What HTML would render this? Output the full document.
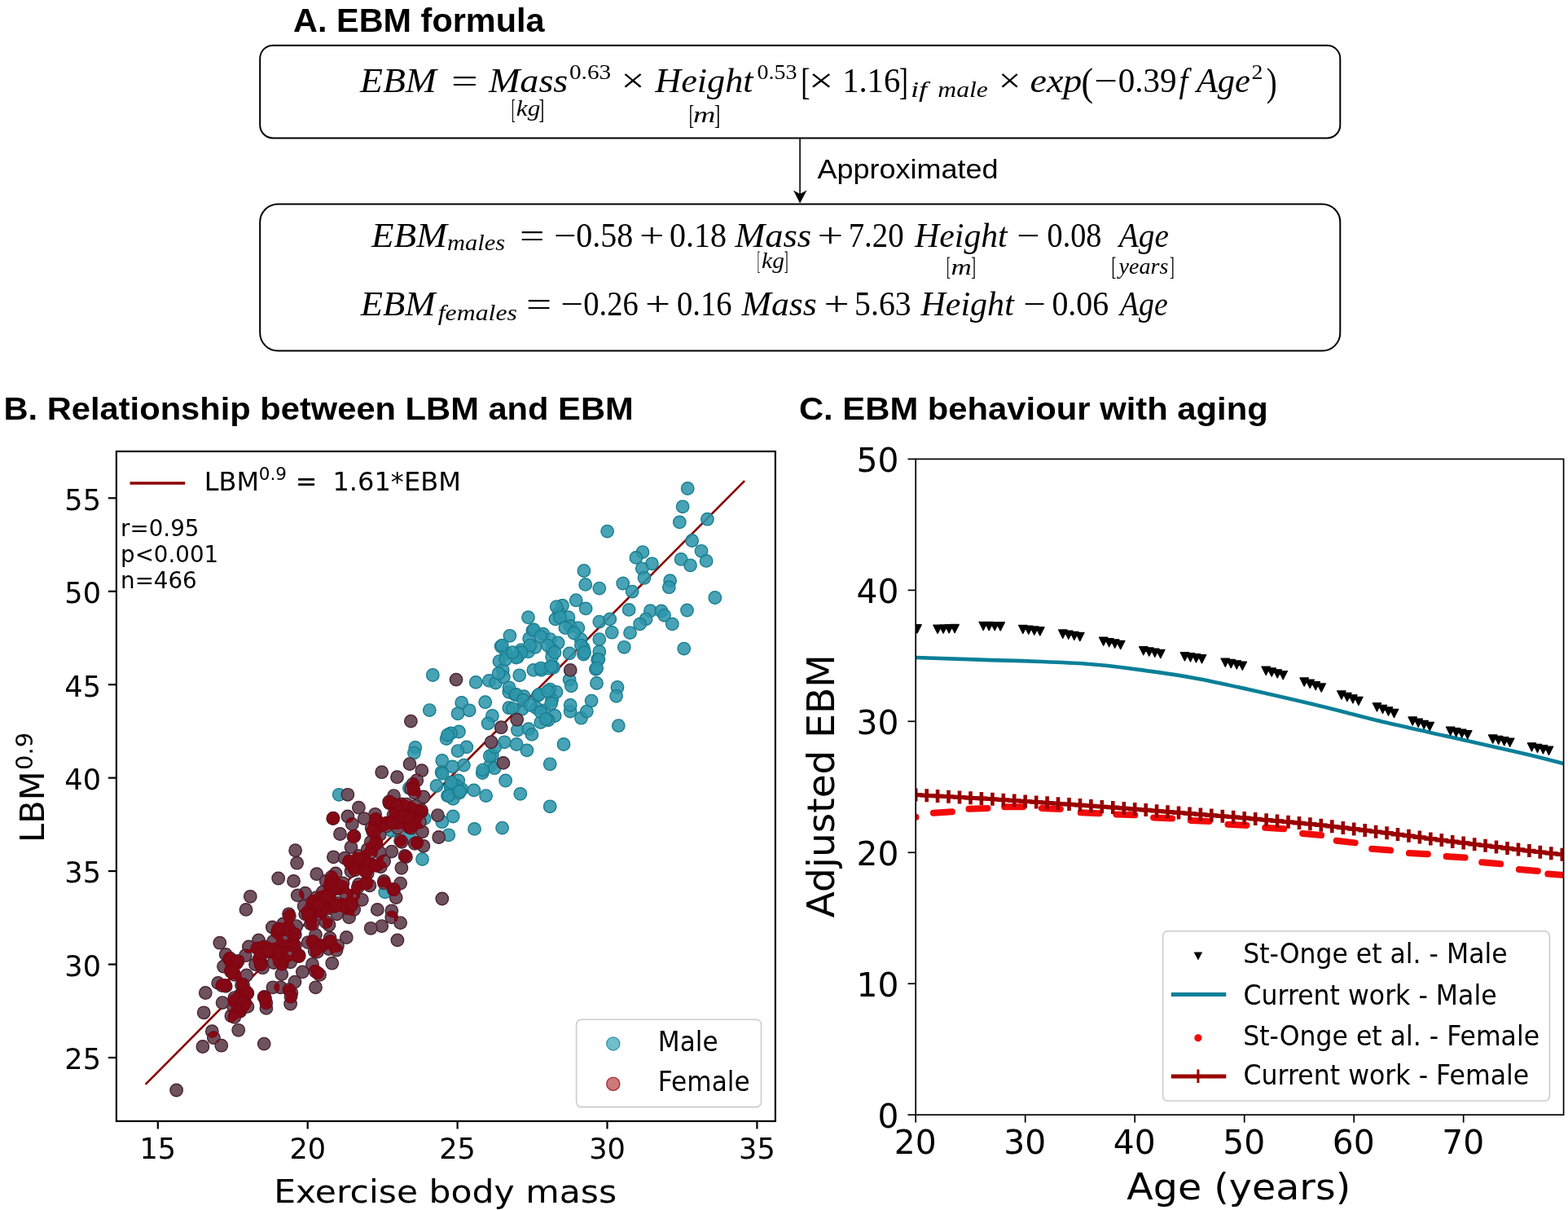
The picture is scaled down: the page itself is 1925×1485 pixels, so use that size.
<!DOCTYPE html>
<html><head><meta charset="utf-8"><title>EBM figure</title>
<style>html,body{margin:0;padding:0;background:#fff;}svg{display:block;}</style></head>
<body><svg width="1925" height="1485" viewBox="0 0 1925 1485">
<rect width="1925" height="1485" fill="#fff"/>
<text x="360.06" y="39.10" style='font-family:"Liberation Sans", Arial, sans-serif;font-size:39.72px;font-weight:bold' textLength="308.53" lengthAdjust="spacingAndGlyphs" fill="#000" >A. EBM formula</text>
<rect x="319.2" y="55.7" width="1326.1" height="113.8" rx="16" ry="16" fill="none" stroke="#000" stroke-width="2"/>
<rect x="319.2" y="250.5" width="1326.1" height="180.1" rx="22" ry="22" fill="none" stroke="#000" stroke-width="2"/>
<line x1="982.10" y1="169.50" x2="982.10" y2="240.00" stroke="#000" stroke-width="1.6" />
<path d="M982.1,249.5 L974,233.5 L982.1,238 L990.5,233.5 Z" fill="#000"/>
<text x="1003.51" y="218.90" style='font-family:"Liberation Sans", Arial, sans-serif;font-size:34.07px' textLength="222.04" lengthAdjust="spacingAndGlyphs" fill="#000" >Approximated</text>
<text x="441.97" y="113.00" style='font-family:"Liberation Serif", serif;font-size:41.20px;font-style:italic' textLength="93.94" lengthAdjust="spacingAndGlyphs" fill="#000" >EBM</text>
<text x="553.90" y="113.00" style='font-family:"Liberation Serif", serif;font-size:41.20px' textLength="32.75" lengthAdjust="spacingAndGlyphs" fill="#000" >=</text>
<text x="599.98" y="113.00" style='font-family:"Liberation Serif", serif;font-size:41.20px;font-style:italic' textLength="97.35" lengthAdjust="spacingAndGlyphs" fill="#000" >Mass</text>
<text x="699.00" y="97.40" style='font-family:"Liberation Serif", serif;font-size:26.20px' textLength="51.17" lengthAdjust="spacingAndGlyphs" fill="#000" >0.63</text>
<text x="762.49" y="113.00" style='font-family:"Liberation Serif", serif;font-size:41.20px' textLength="28.97" lengthAdjust="spacingAndGlyphs" fill="#000" >×</text>
<text x="804.34" y="113.00" style='font-family:"Liberation Serif", serif;font-size:41.20px;font-style:italic' textLength="120.24" lengthAdjust="spacingAndGlyphs" fill="#000" >Height</text>
<text x="929.55" y="97.40" style='font-family:"Liberation Serif", serif;font-size:26.20px' textLength="48.97" lengthAdjust="spacingAndGlyphs" fill="#000" >0.53</text>
<text x="992.65" y="113.00" style='font-family:"Liberation Serif", serif;font-size:41.20px' textLength="30.64" lengthAdjust="spacingAndGlyphs" fill="#000" >×</text>
<text x="1034.15" y="113.00" style='font-family:"Liberation Serif", serif;font-size:41.20px' textLength="71.07" lengthAdjust="spacingAndGlyphs" fill="#000" >1.16</text>
<text x="1118.00" y="118.60" style='font-family:"Liberation Serif", serif;font-size:26.50px;font-style:italic' textLength="20.24" lengthAdjust="spacingAndGlyphs" fill="#000" >if</text>
<text x="1151.29" y="118.60" style='font-family:"Liberation Serif", serif;font-size:26.50px;font-style:italic' textLength="61.59" lengthAdjust="spacingAndGlyphs" fill="#000" >male</text>
<text x="1225.77" y="113.00" style='font-family:"Liberation Serif", serif;font-size:41.20px' textLength="27.71" lengthAdjust="spacingAndGlyphs" fill="#000" >×</text>
<text x="1264.52" y="113.00" style='font-family:"Liberation Serif", serif;font-size:41.20px;font-style:italic' textLength="63.87" lengthAdjust="spacingAndGlyphs" fill="#000" >exp</text>
<text x="1343.15" y="113.00" style='font-family:"Liberation Serif", serif;font-size:41.20px' textLength="28.75" lengthAdjust="spacingAndGlyphs" fill="#000" >−</text>
<text x="1372.76" y="113.00" style='font-family:"Liberation Serif", serif;font-size:41.20px' textLength="71.88" lengthAdjust="spacingAndGlyphs" fill="#000" >0.39</text>
<text x="1447.61" y="113.00" style='font-family:"Liberation Serif", serif;font-size:41.20px;font-style:italic' textLength="10.90" lengthAdjust="spacingAndGlyphs" fill="#000" >f</text>
<text x="1468.94" y="113.00" style='font-family:"Liberation Serif", serif;font-size:41.20px;font-style:italic' textLength="66.01" lengthAdjust="spacingAndGlyphs" fill="#000" >Age</text>
<text x="1536.52" y="97.40" style='font-family:"Liberation Serif", serif;font-size:26.20px' textLength="13.91" lengthAdjust="spacingAndGlyphs" fill="#000" >2</text>
<text x="633.76" y="141.90" style='font-family:"Liberation Serif", serif;font-size:27.40px;font-style:italic' textLength="29.54" lengthAdjust="spacingAndGlyphs" fill="#000" >kg</text>
<text x="851.07" y="149.90" style='font-family:"Liberation Serif", serif;font-size:27.40px;font-style:italic' textLength="27.43" lengthAdjust="spacingAndGlyphs" fill="#000" >m</text>
<text x="983.14" y="116.15" style='font-family:"Liberation Serif", serif;font-size:46.27px' textLength="11.37" lengthAdjust="spacingAndGlyphs" fill="#000" >[</text>
<text x="1103.83" y="116.15" style='font-family:"Liberation Serif", serif;font-size:46.27px' textLength="11.10" lengthAdjust="spacingAndGlyphs" fill="#000" >]</text>
<text x="1327.53" y="117.08" style='font-family:"Liberation Serif", serif;font-size:47.59px' textLength="14.61" lengthAdjust="spacingAndGlyphs" fill="#000" >(</text>
<text x="1554.74" y="117.08" style='font-family:"Liberation Serif", serif;font-size:47.59px' textLength="12.93" lengthAdjust="spacingAndGlyphs" fill="#000" >)</text>
<text x="627.89" y="144.70" style='font-family:"Liberation Serif", serif;font-size:34.10px' textLength="4.49" lengthAdjust="spacingAndGlyphs" fill="#000" >[</text>
<text x="661.48" y="144.70" style='font-family:"Liberation Serif", serif;font-size:34.10px' textLength="6.81" lengthAdjust="spacingAndGlyphs" fill="#000" >]</text>
<text x="845.68" y="152.39" style='font-family:"Liberation Serif", serif;font-size:33.37px' textLength="6.29" lengthAdjust="spacingAndGlyphs" fill="#000" >[</text>
<text x="876.94" y="152.39" style='font-family:"Liberation Serif", serif;font-size:33.37px' textLength="7.25" lengthAdjust="spacingAndGlyphs" fill="#000" >]</text>
<text x="456.06" y="302.50" style='font-family:"Liberation Serif", serif;font-size:41.20px;font-style:italic' textLength="92.78" lengthAdjust="spacingAndGlyphs" fill="#000" >EBM</text>
<text x="548.93" y="306.60" style='font-family:"Liberation Serif", serif;font-size:26.50px;font-style:italic' textLength="71.12" lengthAdjust="spacingAndGlyphs" fill="#000" >males</text>
<text x="638.00" y="302.50" style='font-family:"Liberation Serif", serif;font-size:41.20px' textLength="30.44" lengthAdjust="spacingAndGlyphs" fill="#000" >=</text>
<text x="680.06" y="302.50" style='font-family:"Liberation Serif", serif;font-size:41.20px' textLength="27.53" lengthAdjust="spacingAndGlyphs" fill="#000" >−</text>
<text x="707.30" y="302.50" style='font-family:"Liberation Serif", serif;font-size:41.20px' textLength="69.90" lengthAdjust="spacingAndGlyphs" fill="#000" >0.58</text>
<text x="785.00" y="302.50" style='font-family:"Liberation Serif", serif;font-size:41.20px' textLength="30.44" lengthAdjust="spacingAndGlyphs" fill="#000" >+</text>
<text x="822.00" y="302.50" style='font-family:"Liberation Serif", serif;font-size:41.20px' textLength="69.90" lengthAdjust="spacingAndGlyphs" fill="#000" >0.18</text>
<text x="902.16" y="302.50" style='font-family:"Liberation Serif", serif;font-size:41.20px;font-style:italic' textLength="93.83" lengthAdjust="spacingAndGlyphs" fill="#000" >Mass</text>
<text x="1003.59" y="302.50" style='font-family:"Liberation Serif", serif;font-size:41.20px' textLength="31.66" lengthAdjust="spacingAndGlyphs" fill="#000" >+</text>
<text x="1041.67" y="302.50" style='font-family:"Liberation Serif", serif;font-size:41.20px' textLength="67.98" lengthAdjust="spacingAndGlyphs" fill="#000" >7.20</text>
<text x="1123.12" y="302.50" style='font-family:"Liberation Serif", serif;font-size:41.20px;font-style:italic' textLength="113.62" lengthAdjust="spacingAndGlyphs" fill="#000" >Height</text>
<text x="1248.19" y="302.50" style='font-family:"Liberation Serif", serif;font-size:41.20px' textLength="28.26" lengthAdjust="spacingAndGlyphs" fill="#000" >−</text>
<text x="1285.57" y="302.50" style='font-family:"Liberation Serif", serif;font-size:41.20px' textLength="66.87" lengthAdjust="spacingAndGlyphs" fill="#000" >0.08</text>
<text x="1373.67" y="302.50" style='font-family:"Liberation Serif", serif;font-size:41.20px;font-style:italic' textLength="61.21" lengthAdjust="spacingAndGlyphs" fill="#000" >Age</text>
<text x="935.12" y="329.10" style='font-family:"Liberation Serif", serif;font-size:27.00px;font-style:italic' textLength="27.73" lengthAdjust="spacingAndGlyphs" fill="#000" >kg</text>
<text x="1167.47" y="336.90" style='font-family:"Liberation Serif", serif;font-size:27.00px;font-style:italic' textLength="25.30" lengthAdjust="spacingAndGlyphs" fill="#000" >m</text>
<text x="1373.62" y="336.40" style='font-family:"Liberation Serif", serif;font-size:27.00px;font-style:italic' textLength="60.79" lengthAdjust="spacingAndGlyphs" fill="#000" >years</text>
<text x="929.66" y="331.01" style='font-family:"Liberation Serif", serif;font-size:31.81px' textLength="3.29" lengthAdjust="spacingAndGlyphs" fill="#000" >[</text>
<text x="962.69" y="331.01" style='font-family:"Liberation Serif", serif;font-size:31.81px' textLength="4.88" lengthAdjust="spacingAndGlyphs" fill="#000" >]</text>
<text x="1162.12" y="338.09" style='font-family:"Liberation Serif", serif;font-size:31.93px' textLength="4.79" lengthAdjust="spacingAndGlyphs" fill="#000" >[</text>
<text x="1192.29" y="338.09" style='font-family:"Liberation Serif", serif;font-size:31.93px' textLength="5.77" lengthAdjust="spacingAndGlyphs" fill="#000" >]</text>
<text x="1364.49" y="338.09" style='font-family:"Liberation Serif", serif;font-size:31.93px' textLength="5.84" lengthAdjust="spacingAndGlyphs" fill="#000" >[</text>
<text x="1436.09" y="338.09" style='font-family:"Liberation Serif", serif;font-size:31.93px' textLength="5.77" lengthAdjust="spacingAndGlyphs" fill="#000" >]</text>
<text x="442.76" y="386.70" style='font-family:"Liberation Serif", serif;font-size:41.20px;font-style:italic' textLength="91.81" lengthAdjust="spacingAndGlyphs" fill="#000" >EBM</text>
<text x="537.68" y="393.00" style='font-family:"Liberation Serif", serif;font-size:26.50px;font-style:italic' textLength="97.27" lengthAdjust="spacingAndGlyphs" fill="#000" >females</text>
<text x="646.04" y="386.70" style='font-family:"Liberation Serif", serif;font-size:41.20px' textLength="31.17" lengthAdjust="spacingAndGlyphs" fill="#000" >=</text>
<text x="688.24" y="386.70" style='font-family:"Liberation Serif", serif;font-size:41.20px' textLength="27.77" lengthAdjust="spacingAndGlyphs" fill="#000" >−</text>
<text x="716.26" y="386.70" style='font-family:"Liberation Serif", serif;font-size:41.20px' textLength="67.40" lengthAdjust="spacingAndGlyphs" fill="#000" >0.26</text>
<text x="791.95" y="386.70" style='font-family:"Liberation Serif", serif;font-size:41.20px' textLength="31.05" lengthAdjust="spacingAndGlyphs" fill="#000" >+</text>
<text x="831.06" y="386.70" style='font-family:"Liberation Serif", serif;font-size:41.20px' textLength="67.40" lengthAdjust="spacingAndGlyphs" fill="#000" >0.16</text>
<text x="910.55" y="386.70" style='font-family:"Liberation Serif", serif;font-size:41.20px;font-style:italic' textLength="92.11" lengthAdjust="spacingAndGlyphs" fill="#000" >Mass</text>
<text x="1011.54" y="386.70" style='font-family:"Liberation Serif", serif;font-size:41.20px' textLength="31.17" lengthAdjust="spacingAndGlyphs" fill="#000" >+</text>
<text x="1049.12" y="386.70" style='font-family:"Liberation Serif", serif;font-size:41.20px' textLength="69.47" lengthAdjust="spacingAndGlyphs" fill="#000" >5.63</text>
<text x="1130.42" y="386.70" style='font-family:"Liberation Serif", serif;font-size:41.20px;font-style:italic' textLength="114.41" lengthAdjust="spacingAndGlyphs" fill="#000" >Height</text>
<text x="1256.15" y="386.70" style='font-family:"Liberation Serif", serif;font-size:41.20px' textLength="27.65" lengthAdjust="spacingAndGlyphs" fill="#000" >−</text>
<text x="1291.40" y="386.70" style='font-family:"Liberation Serif", serif;font-size:41.20px' textLength="69.79" lengthAdjust="spacingAndGlyphs" fill="#000" >0.06</text>
<text x="1374.98" y="386.70" style='font-family:"Liberation Serif", serif;font-size:41.20px;font-style:italic' textLength="58.76" lengthAdjust="spacingAndGlyphs" fill="#000" >Age</text>
<text x="4.49" y="514.50" style='font-family:"Liberation Sans", Arial, sans-serif;font-size:38.76px;font-weight:bold' textLength="773.21" lengthAdjust="spacingAndGlyphs" fill="#000" >B. Relationship between LBM and EBM</text>
<defs><clipPath id="clipB"><rect x="142.9" y="554.0" width="809.0" height="822.0"/></clipPath>
<filter id="ovl" x="0" y="0" width="1925" height="1485" filterUnits="userSpaceOnUse"><feComponentTransfer in="SourceAlpha" result="a0"><feFuncA type="discrete" tableValues="0 0 0 0 0 1 1 1"/></feComponentTransfer><feGaussianBlur in="a0" stdDeviation="1.6" result="b1"/><feComponentTransfer in="b1" result="a1"><feFuncA type="linear" slope="8" intercept="-1.6"/></feComponentTransfer><feGaussianBlur in="a1" stdDeviation="1.6" result="b2"/><feComponentTransfer in="b2" result="a"><feFuncA type="linear" slope="8" intercept="-5.2"/></feComponentTransfer><feFlood flood-color="#880010"/><feComposite operator="in" in2="a"/></filter></defs>
<g clip-path="url(#clipB)">
<line x1="178.60" y1="1330.90" x2="914.10" y2="590.20" stroke="#8b0000" stroke-width="2.6" />
<g fill="#2d96ab" fill-opacity="0.88" stroke="#1b7d8f" stroke-width="1.4">
<circle cx="844.2" cy="599.5" r="7.7"/>
<circle cx="838.1" cy="621.8" r="7.7"/>
<circle cx="834.3" cy="640.9" r="7.7"/>
<circle cx="868.4" cy="637.2" r="7.7"/>
<circle cx="849.6" cy="663.5" r="7.7"/>
<circle cx="861.0" cy="676.3" r="7.7"/>
<circle cx="867.1" cy="688.4" r="7.7"/>
<circle cx="836.1" cy="686.4" r="7.7"/>
<circle cx="847.5" cy="693.8" r="7.7"/>
<circle cx="789.0" cy="677.6" r="7.7"/>
<circle cx="780.9" cy="684.4" r="7.7"/>
<circle cx="800.4" cy="691.8" r="7.7"/>
<circle cx="788.3" cy="697.8" r="7.7"/>
<circle cx="791.0" cy="709.3" r="7.7"/>
<circle cx="822.6" cy="712.7" r="7.7"/>
<circle cx="821.3" cy="720.7" r="7.7"/>
<circle cx="764.7" cy="716.0" r="7.7"/>
<circle cx="776.2" cy="726.1" r="7.7"/>
<circle cx="877.8" cy="733.5" r="7.7"/>
<circle cx="772.1" cy="748.4" r="7.7"/>
<circle cx="798.4" cy="749.7" r="7.7"/>
<circle cx="811.9" cy="750.0" r="7.7"/>
<circle cx="815.5" cy="755.1" r="7.7"/>
<circle cx="843.5" cy="749.0" r="7.7"/>
<circle cx="793.0" cy="759.8" r="7.7"/>
<circle cx="785.6" cy="765.9" r="7.7"/>
<circle cx="825.3" cy="765.9" r="7.7"/>
<circle cx="773.5" cy="776.6" r="7.7"/>
<circle cx="745.6" cy="652.1" r="7.7"/>
<circle cx="716.9" cy="700.5" r="7.7"/>
<circle cx="718.7" cy="717.4" r="7.7"/>
<circle cx="735.8" cy="722.1" r="7.7"/>
<circle cx="751.2" cy="776.2" r="7.7"/>
<circle cx="584.2" cy="837.4" r="7.7"/>
<circle cx="600.4" cy="835.4" r="7.7"/>
<circle cx="608.5" cy="838.1" r="7.7"/>
<circle cx="595.7" cy="861.7" r="7.7"/>
<circle cx="566.7" cy="862.4" r="7.7"/>
<circle cx="576.2" cy="871.8" r="7.7"/>
<circle cx="562.0" cy="875.8" r="7.7"/>
<circle cx="640.8" cy="870.4" r="7.7"/>
<circle cx="667.7" cy="871.8" r="7.7"/>
<circle cx="681.2" cy="878.5" r="7.7"/>
<circle cx="673.1" cy="883.9" r="7.7"/>
<circle cx="663.7" cy="886.6" r="7.7"/>
<circle cx="700.1" cy="873.1" r="7.7"/>
<circle cx="713.5" cy="881.2" r="7.7"/>
<circle cx="720.3" cy="873.1" r="7.7"/>
<circle cx="758.0" cy="843.5" r="7.7"/>
<circle cx="756.6" cy="854.3" r="7.7"/>
<circle cx="759.3" cy="890.6" r="7.7"/>
<circle cx="604.4" cy="878.5" r="7.7"/>
<circle cx="599.1" cy="887.9" r="7.7"/>
<circle cx="635.4" cy="896.0" r="7.7"/>
<circle cx="648.9" cy="894.7" r="7.7"/>
<circle cx="652.9" cy="901.4" r="7.7"/>
<circle cx="563.4" cy="898.0" r="7.7"/>
<circle cx="572.8" cy="916.9" r="7.7"/>
<circle cx="562.0" cy="921.6" r="7.7"/>
<circle cx="619.3" cy="910.8" r="7.7"/>
<circle cx="634.1" cy="913.5" r="7.7"/>
<circle cx="646.9" cy="920.9" r="7.7"/>
<circle cx="692.0" cy="913.5" r="7.7"/>
<circle cx="604.4" cy="927.0" r="7.7"/>
<circle cx="601.8" cy="939.1" r="7.7"/>
<circle cx="592.3" cy="948.6" r="7.7"/>
<circle cx="569.4" cy="939.1" r="7.7"/>
<circle cx="675.2" cy="937.8" r="7.7"/>
<circle cx="620.6" cy="958.0" r="7.7"/>
<circle cx="562.7" cy="958.0" r="7.7"/>
<circle cx="766.3" cy="794.3" r="7.7"/>
<circle cx="839.7" cy="796.1" r="7.7"/>
<circle cx="531.3" cy="828.5" r="7.7"/>
<circle cx="527.3" cy="871.6" r="7.7"/>
<circle cx="548.1" cy="906.6" r="7.7"/>
<circle cx="553.5" cy="899.9" r="7.7"/>
<circle cx="509.8" cy="917.4" r="7.7"/>
<circle cx="508.4" cy="924.1" r="7.7"/>
<circle cx="542.8" cy="933.5" r="7.7"/>
<circle cx="555.6" cy="940.9" r="7.7"/>
<circle cx="542.1" cy="947.7" r="7.7"/>
<circle cx="536.0" cy="964.5" r="7.7"/>
<circle cx="553.5" cy="964.5" r="7.7"/>
<circle cx="567.0" cy="968.6" r="7.7"/>
<circle cx="581.8" cy="969.9" r="7.7"/>
<circle cx="596.6" cy="976.6" r="7.7"/>
<circle cx="549.5" cy="976.6" r="7.7"/>
<circle cx="416.2" cy="975.3" r="7.7"/>
<circle cx="502.4" cy="967.2" r="7.7"/>
<circle cx="560.3" cy="964.2" r="7.7"/>
<circle cx="556.2" cy="980.4" r="7.7"/>
<circle cx="556.2" cy="1002.0" r="7.7"/>
<circle cx="542.8" cy="1008.7" r="7.7"/>
<circle cx="550.8" cy="1024.8" r="7.7"/>
<circle cx="582.5" cy="1017.4" r="7.7"/>
<circle cx="518.5" cy="1054.5" r="7.7"/>
<circle cx="521.2" cy="1004.6" r="7.7"/>
<circle cx="472.7" cy="1094.9" r="7.7"/>
<circle cx="480.8" cy="1019.5" r="7.7"/>
<circle cx="502.4" cy="1026.2" r="7.7"/>
<circle cx="607.1" cy="942.7" r="7.7"/>
<circle cx="638.8" cy="974.3" r="7.7"/>
<circle cx="675.2" cy="989.8" r="7.7"/>
<circle cx="616.6" cy="1016.1" r="7.7"/>
<circle cx="707.2" cy="736.7" r="7.7"/>
<circle cx="719.1" cy="746.9" r="7.7"/>
<circle cx="690.5" cy="743.2" r="7.7"/>
<circle cx="686.2" cy="752.3" r="7.7"/>
<circle cx="681.9" cy="759.9" r="7.7"/>
<circle cx="698.0" cy="757.7" r="7.7"/>
<circle cx="700.2" cy="768.5" r="7.7"/>
<circle cx="709.9" cy="770.6" r="7.7"/>
<circle cx="648.5" cy="757.7" r="7.7"/>
<circle cx="625.9" cy="780.3" r="7.7"/>
<circle cx="615.1" cy="793.3" r="7.7"/>
<circle cx="621.5" cy="801.9" r="7.7"/>
<circle cx="612.9" cy="811.6" r="7.7"/>
<circle cx="617.2" cy="822.4" r="7.7"/>
<circle cx="618.3" cy="831.0" r="7.7"/>
<circle cx="653.9" cy="773.9" r="7.7"/>
<circle cx="649.6" cy="783.6" r="7.7"/>
<circle cx="666.8" cy="778.2" r="7.7"/>
<circle cx="675.4" cy="784.6" r="7.7"/>
<circle cx="685.1" cy="789.0" r="7.7"/>
<circle cx="677.6" cy="797.6" r="7.7"/>
<circle cx="677.6" cy="806.2" r="7.7"/>
<circle cx="639.9" cy="797.6" r="7.7"/>
<circle cx="648.5" cy="799.7" r="7.7"/>
<circle cx="635.6" cy="806.2" r="7.7"/>
<circle cx="657.1" cy="794.3" r="7.7"/>
<circle cx="699.1" cy="801.9" r="7.7"/>
<circle cx="713.1" cy="784.6" r="7.7"/>
<circle cx="716.4" cy="795.4" r="7.7"/>
<circle cx="716.4" cy="803.0" r="7.7"/>
<circle cx="735.8" cy="763.1" r="7.7"/>
<circle cx="748.7" cy="759.9" r="7.7"/>
<circle cx="735.8" cy="784.6" r="7.7"/>
<circle cx="735.8" cy="799.7" r="7.7"/>
<circle cx="733.6" cy="809.4" r="7.7"/>
<circle cx="731.4" cy="821.3" r="7.7"/>
<circle cx="732.5" cy="838.5" r="7.7"/>
<circle cx="699.1" cy="834.2" r="7.7"/>
<circle cx="701.3" cy="841.8" r="7.7"/>
<circle cx="637.7" cy="828.8" r="7.7"/>
<circle cx="654.9" cy="822.4" r="7.7"/>
<circle cx="664.6" cy="822.4" r="7.7"/>
<circle cx="673.3" cy="820.2" r="7.7"/>
<circle cx="679.7" cy="819.1" r="7.7"/>
<circle cx="624.8" cy="849.3" r="7.7"/>
<circle cx="632.3" cy="852.5" r="7.7"/>
<circle cx="643.1" cy="854.7" r="7.7"/>
<circle cx="624.8" cy="868.7" r="7.7"/>
<circle cx="660.3" cy="853.6" r="7.7"/>
<circle cx="675.4" cy="846.1" r="7.7"/>
<circle cx="683.0" cy="849.3" r="7.7"/>
<circle cx="677.6" cy="859.0" r="7.7"/>
<circle cx="658.2" cy="868.7" r="7.7"/>
<circle cx="700.2" cy="865.5" r="7.7"/>
<circle cx="726.1" cy="860.1" r="7.7"/>
<circle cx="553.1" cy="965.6" r="7.7"/>
<circle cx="551.0" cy="976.4" r="7.7"/>
<circle cx="563.9" cy="973.1" r="7.7"/>
<circle cx="683.2" cy="744.6" r="7.7"/>
<circle cx="687.5" cy="757.6" r="7.7"/>
<circle cx="693.9" cy="770.5" r="7.7"/>
<circle cx="704.7" cy="777.0" r="7.7"/>
<circle cx="655.2" cy="772.7" r="7.7"/>
<circle cx="663.8" cy="781.3" r="7.7"/>
<circle cx="672.4" cy="792.1" r="7.7"/>
<circle cx="681.0" cy="800.7" r="7.7"/>
<circle cx="650.8" cy="792.1" r="7.7"/>
<circle cx="640.1" cy="800.7" r="7.7"/>
<circle cx="633.6" cy="807.1" r="7.7"/>
<circle cx="663.8" cy="820.1" r="7.7"/>
<circle cx="676.7" cy="817.9" r="7.7"/>
<circle cx="616.4" cy="792.1" r="7.7"/>
<circle cx="620.7" cy="809.3" r="7.7"/>
<circle cx="612.1" cy="826.5" r="7.7"/>
<circle cx="629.3" cy="800.7" r="7.7"/>
<circle cx="625.0" cy="843.8" r="7.7"/>
<circle cx="633.6" cy="852.4" r="7.7"/>
<circle cx="642.2" cy="858.9" r="7.7"/>
<circle cx="650.8" cy="865.3" r="7.7"/>
<circle cx="629.3" cy="869.6" r="7.7"/>
<circle cx="661.6" cy="852.4" r="7.7"/>
<circle cx="672.4" cy="848.1" r="7.7"/>
<circle cx="676.7" cy="863.2" r="7.7"/>
<circle cx="663.8" cy="873.9" r="7.7"/>
<circle cx="670.2" cy="882.6" r="7.7"/>
<circle cx="713.3" cy="792.1" r="7.7"/>
<circle cx="717.6" cy="800.7" r="7.7"/>
<circle cx="734.9" cy="809.3" r="7.7"/>
<circle cx="732.7" cy="820.1" r="7.7"/>
<circle cx="549.6" cy="902.0" r="7.7"/>
<circle cx="543.1" cy="949.4" r="7.7"/>
<circle cx="553.9" cy="960.1" r="7.7"/>
<circle cx="564.6" cy="970.9" r="7.7"/>
<circle cx="601.3" cy="927.8" r="7.7"/>
<circle cx="592.7" cy="945.1" r="7.7"/>
<circle cx="607.7" cy="917.0" r="7.7"/>
</g>
<g fill="#6e5260" stroke="#4a2230" stroke-width="1.4">
<circle cx="560.0" cy="834.1" r="7.7"/>
<circle cx="634.7" cy="883.2" r="7.7"/>
<circle cx="615.2" cy="892.7" r="7.7"/>
<circle cx="603.1" cy="910.8" r="7.7"/>
<circle cx="617.9" cy="936.4" r="7.7"/>
<circle cx="504.4" cy="885.1" r="7.7"/>
<circle cx="468.7" cy="947.7" r="7.7"/>
<circle cx="487.5" cy="953.7" r="7.7"/>
<circle cx="503.0" cy="937.6" r="7.7"/>
<circle cx="517.8" cy="945.7" r="7.7"/>
<circle cx="511.8" cy="957.8" r="7.7"/>
<circle cx="507.7" cy="968.6" r="7.7"/>
<circle cx="483.5" cy="976.6" r="7.7"/>
<circle cx="519.9" cy="978.0" r="7.7"/>
<circle cx="426.9" cy="975.3" r="7.7"/>
<circle cx="440.4" cy="991.2" r="7.7"/>
<circle cx="408.8" cy="1004.6" r="7.7"/>
<circle cx="426.9" cy="1002.0" r="7.7"/>
<circle cx="432.3" cy="1011.4" r="7.7"/>
<circle cx="417.5" cy="1023.5" r="7.7"/>
<circle cx="435.0" cy="1026.2" r="7.7"/>
<circle cx="460.6" cy="999.3" r="7.7"/>
<circle cx="447.1" cy="1004.6" r="7.7"/>
<circle cx="478.1" cy="985.8" r="7.7"/>
<circle cx="486.2" cy="996.6" r="7.7"/>
<circle cx="494.3" cy="989.8" r="7.7"/>
<circle cx="505.1" cy="992.5" r="7.7"/>
<circle cx="517.2" cy="996.6" r="7.7"/>
<circle cx="475.4" cy="1010.0" r="7.7"/>
<circle cx="487.5" cy="1010.0" r="7.7"/>
<circle cx="491.6" cy="1031.6" r="7.7"/>
<circle cx="502.4" cy="1015.4" r="7.7"/>
<circle cx="518.5" cy="1020.8" r="7.7"/>
<circle cx="519.9" cy="1038.3" r="7.7"/>
<circle cx="511.8" cy="1034.3" r="7.7"/>
<circle cx="497.0" cy="1050.4" r="7.7"/>
<circle cx="480.8" cy="1045.1" r="7.7"/>
<circle cx="492.9" cy="1065.3" r="7.7"/>
<circle cx="537.4" cy="1000.6" r="7.7"/>
<circle cx="538.7" cy="1027.5" r="7.7"/>
<circle cx="409.4" cy="1051.8" r="7.7"/>
<circle cx="431.0" cy="1039.7" r="7.7"/>
<circle cx="440.4" cy="1050.4" r="7.7"/>
<circle cx="451.2" cy="1042.4" r="7.7"/>
<circle cx="456.6" cy="1061.2" r="7.7"/>
<circle cx="467.3" cy="1063.9" r="7.7"/>
<circle cx="451.2" cy="1072.0" r="7.7"/>
<circle cx="431.0" cy="1069.3" r="7.7"/>
<circle cx="412.1" cy="1072.0" r="7.7"/>
<circle cx="406.7" cy="1081.4" r="7.7"/>
<circle cx="420.2" cy="1088.1" r="7.7"/>
<circle cx="440.4" cy="1085.5" r="7.7"/>
<circle cx="453.9" cy="1086.8" r="7.7"/>
<circle cx="471.4" cy="1081.4" r="7.7"/>
<circle cx="491.6" cy="1084.1" r="7.7"/>
<circle cx="483.5" cy="1092.2" r="7.7"/>
<circle cx="486.2" cy="1101.6" r="7.7"/>
<circle cx="444.4" cy="1104.3" r="7.7"/>
<circle cx="433.7" cy="1098.9" r="7.7"/>
<circle cx="426.9" cy="1115.1" r="7.7"/>
<circle cx="413.5" cy="1121.8" r="7.7"/>
<circle cx="404.0" cy="1135.3" r="7.7"/>
<circle cx="463.3" cy="1116.4" r="7.7"/>
<circle cx="480.8" cy="1117.8" r="7.7"/>
<circle cx="480.8" cy="1125.9" r="7.7"/>
<circle cx="491.6" cy="1132.6" r="7.7"/>
<circle cx="468.7" cy="1136.6" r="7.7"/>
<circle cx="455.2" cy="1139.3" r="7.7"/>
<circle cx="542.8" cy="1103.0" r="7.7"/>
<circle cx="402.7" cy="1104.3" r="7.7"/>
<circle cx="423.2" cy="1053.1" r="7.7"/>
<circle cx="362.6" cy="1043.7" r="7.7"/>
<circle cx="364.6" cy="1059.2" r="7.7"/>
<circle cx="341.7" cy="1078.0" r="7.7"/>
<circle cx="360.5" cy="1081.4" r="7.7"/>
<circle cx="388.8" cy="1072.7" r="7.7"/>
<circle cx="400.3" cy="1081.4" r="7.7"/>
<circle cx="374.7" cy="1096.2" r="7.7"/>
<circle cx="365.3" cy="1098.9" r="7.7"/>
<circle cx="388.1" cy="1101.6" r="7.7"/>
<circle cx="396.2" cy="1094.9" r="7.7"/>
<circle cx="431.2" cy="1061.2" r="7.7"/>
<circle cx="415.1" cy="1108.4" r="7.7"/>
<circle cx="381.4" cy="1115.1" r="7.7"/>
<circle cx="374.7" cy="1121.8" r="7.7"/>
<circle cx="392.2" cy="1121.8" r="7.7"/>
<circle cx="401.6" cy="1115.1" r="7.7"/>
<circle cx="428.6" cy="1125.9" r="7.7"/>
<circle cx="354.5" cy="1121.8" r="7.7"/>
<circle cx="307.3" cy="1100.3" r="7.7"/>
<circle cx="302.0" cy="1116.4" r="7.7"/>
<circle cx="334.3" cy="1138.0" r="7.7"/>
<circle cx="347.7" cy="1133.9" r="7.7"/>
<circle cx="363.9" cy="1136.6" r="7.7"/>
<circle cx="381.4" cy="1133.9" r="7.7"/>
<circle cx="317.5" cy="1153.9" r="7.7"/>
<circle cx="305.4" cy="1162.0" r="7.7"/>
<circle cx="301.3" cy="1172.7" r="7.7"/>
<circle cx="321.5" cy="1164.6" r="7.7"/>
<circle cx="340.4" cy="1144.4" r="7.7"/>
<circle cx="351.2" cy="1140.4" r="7.7"/>
<circle cx="360.6" cy="1147.1" r="7.7"/>
<circle cx="347.1" cy="1160.6" r="7.7"/>
<circle cx="360.6" cy="1160.6" r="7.7"/>
<circle cx="367.3" cy="1172.7" r="7.7"/>
<circle cx="333.7" cy="1164.6" r="7.7"/>
<circle cx="320.2" cy="1180.8" r="7.7"/>
<circle cx="313.5" cy="1183.5" r="7.7"/>
<circle cx="343.1" cy="1180.8" r="7.7"/>
<circle cx="356.6" cy="1180.8" r="7.7"/>
<circle cx="345.8" cy="1195.6" r="7.7"/>
<circle cx="371.4" cy="1192.9" r="7.7"/>
<circle cx="383.5" cy="1183.5" r="7.7"/>
<circle cx="390.2" cy="1194.3" r="7.7"/>
<circle cx="387.5" cy="1211.8" r="7.7"/>
<circle cx="362.0" cy="1205.1" r="7.7"/>
<circle cx="357.9" cy="1218.5" r="7.7"/>
<circle cx="356.6" cy="1232.0" r="7.7"/>
<circle cx="344.4" cy="1211.8" r="7.7"/>
<circle cx="335.0" cy="1211.8" r="7.7"/>
<circle cx="324.2" cy="1223.9" r="7.7"/>
<circle cx="326.9" cy="1237.4" r="7.7"/>
<circle cx="302.7" cy="1197.0" r="7.7"/>
<circle cx="302.7" cy="1218.5" r="7.7"/>
<circle cx="324.2" cy="1281.1" r="7.7"/>
<circle cx="407.7" cy="1182.2" r="7.7"/>
<circle cx="425.3" cy="1150.5" r="7.7"/>
<circle cx="414.5" cy="1160.6" r="7.7"/>
<circle cx="405.1" cy="1151.2" r="7.7"/>
<circle cx="394.3" cy="1160.6" r="7.7"/>
<circle cx="387.5" cy="1147.1" r="7.7"/>
<circle cx="387.5" cy="1113.5" r="7.7"/>
<circle cx="421.2" cy="1110.8" r="7.7"/>
<circle cx="434.7" cy="1116.2" r="7.7"/>
<circle cx="403.7" cy="1164.6" r="7.7"/>
<circle cx="386.2" cy="1167.3" r="7.7"/>
<circle cx="378.1" cy="1156.6" r="7.7"/>
<circle cx="487.9" cy="1153.9" r="7.7"/>
<circle cx="269.8" cy="1157.2" r="7.7"/>
<circle cx="277.2" cy="1171.4" r="7.7"/>
<circle cx="274.5" cy="1186.2" r="7.7"/>
<circle cx="285.3" cy="1183.5" r="7.7"/>
<circle cx="286.6" cy="1194.3" r="7.7"/>
<circle cx="345.9" cy="1174.1" r="7.7"/>
<circle cx="267.7" cy="1206.4" r="7.7"/>
<circle cx="277.2" cy="1210.4" r="7.7"/>
<circle cx="252.3" cy="1218.5" r="7.7"/>
<circle cx="273.1" cy="1230.6" r="7.7"/>
<circle cx="294.7" cy="1221.2" r="7.7"/>
<circle cx="287.9" cy="1227.9" r="7.7"/>
<circle cx="298.7" cy="1234.7" r="7.7"/>
<circle cx="283.9" cy="1246.8" r="7.7"/>
<circle cx="294.7" cy="1241.4" r="7.7"/>
<circle cx="250.2" cy="1242.8" r="7.7"/>
<circle cx="292.7" cy="1264.3" r="7.7"/>
<circle cx="260.3" cy="1265.7" r="7.7"/>
<circle cx="262.4" cy="1273.7" r="7.7"/>
<circle cx="248.9" cy="1284.5" r="7.7"/>
<circle cx="271.8" cy="1283.2" r="7.7"/>
<circle cx="216.6" cy="1338.0" r="7.7"/>
<circle cx="700.2" cy="822.4" r="7.7"/>
<circle cx="341.9" cy="1140.3" r="7.7"/>
<circle cx="354.8" cy="1140.3" r="7.7"/>
<circle cx="362.4" cy="1146.8" r="7.7"/>
<circle cx="335.4" cy="1155.4" r="7.7"/>
<circle cx="348.4" cy="1155.4" r="7.7"/>
<circle cx="362.4" cy="1160.8" r="7.7"/>
<circle cx="340.8" cy="1171.6" r="7.7"/>
<circle cx="354.8" cy="1171.6" r="7.7"/>
<circle cx="366.7" cy="1173.7" r="7.7"/>
<circle cx="346.2" cy="1183.4" r="7.7"/>
<circle cx="330.0" cy="1168.4" r="7.7"/>
<circle cx="355.4" cy="1124.2" r="7.7"/>
<circle cx="316.0" cy="1164.0" r="7.7"/>
<circle cx="324.6" cy="1161.9" r="7.7"/>
<circle cx="318.2" cy="1177.0" r="7.7"/>
<circle cx="322.5" cy="1187.7" r="7.7"/>
<circle cx="373.1" cy="1112.3" r="7.7"/>
<circle cx="383.9" cy="1106.9" r="7.7"/>
<circle cx="394.7" cy="1101.5" r="7.7"/>
<circle cx="405.5" cy="1096.2" r="7.7"/>
<circle cx="416.2" cy="1090.8" r="7.7"/>
<circle cx="378.5" cy="1123.1" r="7.7"/>
<circle cx="394.7" cy="1117.7" r="7.7"/>
<circle cx="410.8" cy="1112.3" r="7.7"/>
<circle cx="383.9" cy="1133.9" r="7.7"/>
<circle cx="400.1" cy="1131.7" r="7.7"/>
<circle cx="405.5" cy="1085.4" r="7.7"/>
<circle cx="383.9" cy="1155.4" r="7.7"/>
<circle cx="394.7" cy="1160.8" r="7.7"/>
<circle cx="405.5" cy="1155.4" r="7.7"/>
<circle cx="413.0" cy="1166.2" r="7.7"/>
<circle cx="389.3" cy="1168.4" r="7.7"/>
<circle cx="281.5" cy="1177.0" r="7.7"/>
<circle cx="290.2" cy="1182.4" r="7.7"/>
<circle cx="283.7" cy="1191.0" r="7.7"/>
<circle cx="288.0" cy="1196.4" r="7.7"/>
<circle cx="296.6" cy="1209.3" r="7.7"/>
<circle cx="303.1" cy="1217.9" r="7.7"/>
<circle cx="292.3" cy="1225.5" r="7.7"/>
<circle cx="300.9" cy="1230.8" r="7.7"/>
<circle cx="286.9" cy="1236.2" r="7.7"/>
<circle cx="324.6" cy="1223.3" r="7.7"/>
<circle cx="326.8" cy="1230.8" r="7.7"/>
<circle cx="354.8" cy="1214.7" r="7.7"/>
<circle cx="357.0" cy="1223.3" r="7.7"/>
<circle cx="387.1" cy="1192.1" r="7.7"/>
<circle cx="392.5" cy="1196.4" r="7.7"/>
<circle cx="276.2" cy="1209.3" r="7.7"/>
<circle cx="459.7" cy="1020.3" r="7.7"/>
<circle cx="461.9" cy="1033.3" r="7.7"/>
<circle cx="466.2" cy="1046.2" r="7.7"/>
<circle cx="455.4" cy="1046.2" r="7.7"/>
<circle cx="446.8" cy="1057.0" r="7.7"/>
<circle cx="461.9" cy="1062.4" r="7.7"/>
<circle cx="471.6" cy="1057.0" r="7.7"/>
<circle cx="428.5" cy="1057.0" r="7.7"/>
<circle cx="440.3" cy="1054.8" r="7.7"/>
<circle cx="436.0" cy="1067.7" r="7.7"/>
<circle cx="449.0" cy="1069.9" r="7.7"/>
<circle cx="406.9" cy="1076.4" r="7.7"/>
<circle cx="412.3" cy="1089.3" r="7.7"/>
<circle cx="401.5" cy="1100.1" r="7.7"/>
<circle cx="420.9" cy="1083.9" r="7.7"/>
<circle cx="425.3" cy="1097.9" r="7.7"/>
<circle cx="439.3" cy="1089.3" r="7.7"/>
<circle cx="450.0" cy="1083.9" r="7.7"/>
<circle cx="390.8" cy="1110.8" r="7.7"/>
<circle cx="412.3" cy="1110.8" r="7.7"/>
<circle cx="431.7" cy="1110.8" r="7.7"/>
<circle cx="482.4" cy="986.9" r="7.7"/>
<circle cx="493.1" cy="986.9" r="7.7"/>
<circle cx="503.9" cy="992.3" r="7.7"/>
<circle cx="487.7" cy="1003.1" r="7.7"/>
<circle cx="498.5" cy="1003.1" r="7.7"/>
<circle cx="509.3" cy="1008.5" r="7.7"/>
<circle cx="493.1" cy="1033.3" r="7.7"/>
<circle cx="509.3" cy="1035.4" r="7.7"/>
<circle cx="498.5" cy="1051.6" r="7.7"/>
<circle cx="409.1" cy="1004.2" r="7.7"/>
<circle cx="433.9" cy="1026.8" r="7.7"/>
<circle cx="471.6" cy="1083.9" r="7.7"/>
<circle cx="483.4" cy="1091.4" r="7.7"/>
<circle cx="282.4" cy="1176.2" r="7.7"/>
<circle cx="287.7" cy="1183.7" r="7.7"/>
<circle cx="283.4" cy="1192.3" r="7.7"/>
<circle cx="292.1" cy="1179.4" r="7.7"/>
<circle cx="298.5" cy="1208.5" r="7.7"/>
<circle cx="303.9" cy="1219.3" r="7.7"/>
<circle cx="287.7" cy="1224.6" r="7.7"/>
<circle cx="298.5" cy="1230.0" r="7.7"/>
<circle cx="293.1" cy="1240.8" r="7.7"/>
<circle cx="287.7" cy="1248.4" r="7.7"/>
<circle cx="303.9" cy="1235.4" r="7.7"/>
<circle cx="320.1" cy="1170.8" r="7.7"/>
<circle cx="320.1" cy="1183.7" r="7.7"/>
<circle cx="330.8" cy="1166.5" r="7.7"/>
<circle cx="336.2" cy="1181.5" r="7.7"/>
<circle cx="325.5" cy="1224.6" r="7.7"/>
<circle cx="272.7" cy="1209.6" r="7.7"/>
<circle cx="506.8" cy="962.4" r="7.7"/>
<circle cx="509.0" cy="973.1" r="7.7"/>
<circle cx="504.6" cy="967.7" r="7.7"/>
<circle cx="477.7" cy="983.9" r="7.7"/>
<circle cx="488.5" cy="989.3" r="7.7"/>
<circle cx="499.3" cy="987.1" r="7.7"/>
<circle cx="510.0" cy="989.3" r="7.7"/>
<circle cx="517.6" cy="994.7" r="7.7"/>
<circle cx="483.1" cy="1000.1" r="7.7"/>
<circle cx="493.9" cy="1002.2" r="7.7"/>
<circle cx="504.6" cy="1005.5" r="7.7"/>
<circle cx="515.4" cy="1008.7" r="7.7"/>
<circle cx="472.3" cy="1010.8" r="7.7"/>
<circle cx="461.5" cy="1005.5" r="7.7"/>
<circle cx="456.2" cy="1016.2" r="7.7"/>
<circle cx="488.5" cy="1016.2" r="7.7"/>
<circle cx="504.6" cy="1016.2" r="7.7"/>
<circle cx="457.6" cy="1020.3" r="7.7"/>
<circle cx="466.2" cy="1024.6" r="7.7"/>
<circle cx="474.8" cy="1013.9" r="7.7"/>
<circle cx="461.9" cy="1035.4" r="7.7"/>
<circle cx="455.4" cy="1033.3" r="7.7"/>
<circle cx="481.3" cy="1009.6" r="7.7"/>
</g>
<g filter="url(#ovl)" fill="#000" fill-opacity="0.5" opacity="0.9">
<circle cx="560.0" cy="834.1" r="8.2"/>
<circle cx="634.7" cy="883.2" r="8.2"/>
<circle cx="615.2" cy="892.7" r="8.2"/>
<circle cx="603.1" cy="910.8" r="8.2"/>
<circle cx="617.9" cy="936.4" r="8.2"/>
<circle cx="504.4" cy="885.1" r="8.2"/>
<circle cx="468.7" cy="947.7" r="8.2"/>
<circle cx="487.5" cy="953.7" r="8.2"/>
<circle cx="503.0" cy="937.6" r="8.2"/>
<circle cx="517.8" cy="945.7" r="8.2"/>
<circle cx="511.8" cy="957.8" r="8.2"/>
<circle cx="507.7" cy="968.6" r="8.2"/>
<circle cx="483.5" cy="976.6" r="8.2"/>
<circle cx="519.9" cy="978.0" r="8.2"/>
<circle cx="426.9" cy="975.3" r="8.2"/>
<circle cx="440.4" cy="991.2" r="8.2"/>
<circle cx="408.8" cy="1004.6" r="8.2"/>
<circle cx="426.9" cy="1002.0" r="8.2"/>
<circle cx="432.3" cy="1011.4" r="8.2"/>
<circle cx="417.5" cy="1023.5" r="8.2"/>
<circle cx="435.0" cy="1026.2" r="8.2"/>
<circle cx="460.6" cy="999.3" r="8.2"/>
<circle cx="447.1" cy="1004.6" r="8.2"/>
<circle cx="478.1" cy="985.8" r="8.2"/>
<circle cx="486.2" cy="996.6" r="8.2"/>
<circle cx="494.3" cy="989.8" r="8.2"/>
<circle cx="505.1" cy="992.5" r="8.2"/>
<circle cx="517.2" cy="996.6" r="8.2"/>
<circle cx="475.4" cy="1010.0" r="8.2"/>
<circle cx="487.5" cy="1010.0" r="8.2"/>
<circle cx="491.6" cy="1031.6" r="8.2"/>
<circle cx="502.4" cy="1015.4" r="8.2"/>
<circle cx="518.5" cy="1020.8" r="8.2"/>
<circle cx="519.9" cy="1038.3" r="8.2"/>
<circle cx="511.8" cy="1034.3" r="8.2"/>
<circle cx="497.0" cy="1050.4" r="8.2"/>
<circle cx="480.8" cy="1045.1" r="8.2"/>
<circle cx="492.9" cy="1065.3" r="8.2"/>
<circle cx="537.4" cy="1000.6" r="8.2"/>
<circle cx="538.7" cy="1027.5" r="8.2"/>
<circle cx="409.4" cy="1051.8" r="8.2"/>
<circle cx="431.0" cy="1039.7" r="8.2"/>
<circle cx="440.4" cy="1050.4" r="8.2"/>
<circle cx="451.2" cy="1042.4" r="8.2"/>
<circle cx="456.6" cy="1061.2" r="8.2"/>
<circle cx="467.3" cy="1063.9" r="8.2"/>
<circle cx="451.2" cy="1072.0" r="8.2"/>
<circle cx="431.0" cy="1069.3" r="8.2"/>
<circle cx="412.1" cy="1072.0" r="8.2"/>
<circle cx="406.7" cy="1081.4" r="8.2"/>
<circle cx="420.2" cy="1088.1" r="8.2"/>
<circle cx="440.4" cy="1085.5" r="8.2"/>
<circle cx="453.9" cy="1086.8" r="8.2"/>
<circle cx="471.4" cy="1081.4" r="8.2"/>
<circle cx="491.6" cy="1084.1" r="8.2"/>
<circle cx="483.5" cy="1092.2" r="8.2"/>
<circle cx="486.2" cy="1101.6" r="8.2"/>
<circle cx="444.4" cy="1104.3" r="8.2"/>
<circle cx="433.7" cy="1098.9" r="8.2"/>
<circle cx="426.9" cy="1115.1" r="8.2"/>
<circle cx="413.5" cy="1121.8" r="8.2"/>
<circle cx="404.0" cy="1135.3" r="8.2"/>
<circle cx="463.3" cy="1116.4" r="8.2"/>
<circle cx="480.8" cy="1117.8" r="8.2"/>
<circle cx="480.8" cy="1125.9" r="8.2"/>
<circle cx="491.6" cy="1132.6" r="8.2"/>
<circle cx="468.7" cy="1136.6" r="8.2"/>
<circle cx="455.2" cy="1139.3" r="8.2"/>
<circle cx="542.8" cy="1103.0" r="8.2"/>
<circle cx="402.7" cy="1104.3" r="8.2"/>
<circle cx="423.2" cy="1053.1" r="8.2"/>
<circle cx="362.6" cy="1043.7" r="8.2"/>
<circle cx="364.6" cy="1059.2" r="8.2"/>
<circle cx="341.7" cy="1078.0" r="8.2"/>
<circle cx="360.5" cy="1081.4" r="8.2"/>
<circle cx="388.8" cy="1072.7" r="8.2"/>
<circle cx="400.3" cy="1081.4" r="8.2"/>
<circle cx="374.7" cy="1096.2" r="8.2"/>
<circle cx="365.3" cy="1098.9" r="8.2"/>
<circle cx="388.1" cy="1101.6" r="8.2"/>
<circle cx="396.2" cy="1094.9" r="8.2"/>
<circle cx="431.2" cy="1061.2" r="8.2"/>
<circle cx="415.1" cy="1108.4" r="8.2"/>
<circle cx="381.4" cy="1115.1" r="8.2"/>
<circle cx="374.7" cy="1121.8" r="8.2"/>
<circle cx="392.2" cy="1121.8" r="8.2"/>
<circle cx="401.6" cy="1115.1" r="8.2"/>
<circle cx="428.6" cy="1125.9" r="8.2"/>
<circle cx="354.5" cy="1121.8" r="8.2"/>
<circle cx="307.3" cy="1100.3" r="8.2"/>
<circle cx="302.0" cy="1116.4" r="8.2"/>
<circle cx="334.3" cy="1138.0" r="8.2"/>
<circle cx="347.7" cy="1133.9" r="8.2"/>
<circle cx="363.9" cy="1136.6" r="8.2"/>
<circle cx="381.4" cy="1133.9" r="8.2"/>
<circle cx="317.5" cy="1153.9" r="8.2"/>
<circle cx="305.4" cy="1162.0" r="8.2"/>
<circle cx="301.3" cy="1172.7" r="8.2"/>
<circle cx="321.5" cy="1164.6" r="8.2"/>
<circle cx="340.4" cy="1144.4" r="8.2"/>
<circle cx="351.2" cy="1140.4" r="8.2"/>
<circle cx="360.6" cy="1147.1" r="8.2"/>
<circle cx="347.1" cy="1160.6" r="8.2"/>
<circle cx="360.6" cy="1160.6" r="8.2"/>
<circle cx="367.3" cy="1172.7" r="8.2"/>
<circle cx="333.7" cy="1164.6" r="8.2"/>
<circle cx="320.2" cy="1180.8" r="8.2"/>
<circle cx="313.5" cy="1183.5" r="8.2"/>
<circle cx="343.1" cy="1180.8" r="8.2"/>
<circle cx="356.6" cy="1180.8" r="8.2"/>
<circle cx="345.8" cy="1195.6" r="8.2"/>
<circle cx="371.4" cy="1192.9" r="8.2"/>
<circle cx="383.5" cy="1183.5" r="8.2"/>
<circle cx="390.2" cy="1194.3" r="8.2"/>
<circle cx="387.5" cy="1211.8" r="8.2"/>
<circle cx="362.0" cy="1205.1" r="8.2"/>
<circle cx="357.9" cy="1218.5" r="8.2"/>
<circle cx="356.6" cy="1232.0" r="8.2"/>
<circle cx="344.4" cy="1211.8" r="8.2"/>
<circle cx="335.0" cy="1211.8" r="8.2"/>
<circle cx="324.2" cy="1223.9" r="8.2"/>
<circle cx="326.9" cy="1237.4" r="8.2"/>
<circle cx="302.7" cy="1197.0" r="8.2"/>
<circle cx="302.7" cy="1218.5" r="8.2"/>
<circle cx="324.2" cy="1281.1" r="8.2"/>
<circle cx="407.7" cy="1182.2" r="8.2"/>
<circle cx="425.3" cy="1150.5" r="8.2"/>
<circle cx="414.5" cy="1160.6" r="8.2"/>
<circle cx="405.1" cy="1151.2" r="8.2"/>
<circle cx="394.3" cy="1160.6" r="8.2"/>
<circle cx="387.5" cy="1147.1" r="8.2"/>
<circle cx="387.5" cy="1113.5" r="8.2"/>
<circle cx="421.2" cy="1110.8" r="8.2"/>
<circle cx="434.7" cy="1116.2" r="8.2"/>
<circle cx="403.7" cy="1164.6" r="8.2"/>
<circle cx="386.2" cy="1167.3" r="8.2"/>
<circle cx="378.1" cy="1156.6" r="8.2"/>
<circle cx="487.9" cy="1153.9" r="8.2"/>
<circle cx="269.8" cy="1157.2" r="8.2"/>
<circle cx="277.2" cy="1171.4" r="8.2"/>
<circle cx="274.5" cy="1186.2" r="8.2"/>
<circle cx="285.3" cy="1183.5" r="8.2"/>
<circle cx="286.6" cy="1194.3" r="8.2"/>
<circle cx="345.9" cy="1174.1" r="8.2"/>
<circle cx="267.7" cy="1206.4" r="8.2"/>
<circle cx="277.2" cy="1210.4" r="8.2"/>
<circle cx="252.3" cy="1218.5" r="8.2"/>
<circle cx="273.1" cy="1230.6" r="8.2"/>
<circle cx="294.7" cy="1221.2" r="8.2"/>
<circle cx="287.9" cy="1227.9" r="8.2"/>
<circle cx="298.7" cy="1234.7" r="8.2"/>
<circle cx="283.9" cy="1246.8" r="8.2"/>
<circle cx="294.7" cy="1241.4" r="8.2"/>
<circle cx="250.2" cy="1242.8" r="8.2"/>
<circle cx="292.7" cy="1264.3" r="8.2"/>
<circle cx="260.3" cy="1265.7" r="8.2"/>
<circle cx="262.4" cy="1273.7" r="8.2"/>
<circle cx="248.9" cy="1284.5" r="8.2"/>
<circle cx="271.8" cy="1283.2" r="8.2"/>
<circle cx="216.6" cy="1338.0" r="8.2"/>
<circle cx="700.2" cy="822.4" r="8.2"/>
<circle cx="341.9" cy="1140.3" r="8.2"/>
<circle cx="354.8" cy="1140.3" r="8.2"/>
<circle cx="362.4" cy="1146.8" r="8.2"/>
<circle cx="335.4" cy="1155.4" r="8.2"/>
<circle cx="348.4" cy="1155.4" r="8.2"/>
<circle cx="362.4" cy="1160.8" r="8.2"/>
<circle cx="340.8" cy="1171.6" r="8.2"/>
<circle cx="354.8" cy="1171.6" r="8.2"/>
<circle cx="366.7" cy="1173.7" r="8.2"/>
<circle cx="346.2" cy="1183.4" r="8.2"/>
<circle cx="330.0" cy="1168.4" r="8.2"/>
<circle cx="355.4" cy="1124.2" r="8.2"/>
<circle cx="316.0" cy="1164.0" r="8.2"/>
<circle cx="324.6" cy="1161.9" r="8.2"/>
<circle cx="318.2" cy="1177.0" r="8.2"/>
<circle cx="322.5" cy="1187.7" r="8.2"/>
<circle cx="373.1" cy="1112.3" r="8.2"/>
<circle cx="383.9" cy="1106.9" r="8.2"/>
<circle cx="394.7" cy="1101.5" r="8.2"/>
<circle cx="405.5" cy="1096.2" r="8.2"/>
<circle cx="416.2" cy="1090.8" r="8.2"/>
<circle cx="378.5" cy="1123.1" r="8.2"/>
<circle cx="394.7" cy="1117.7" r="8.2"/>
<circle cx="410.8" cy="1112.3" r="8.2"/>
<circle cx="383.9" cy="1133.9" r="8.2"/>
<circle cx="400.1" cy="1131.7" r="8.2"/>
<circle cx="405.5" cy="1085.4" r="8.2"/>
<circle cx="383.9" cy="1155.4" r="8.2"/>
<circle cx="394.7" cy="1160.8" r="8.2"/>
<circle cx="405.5" cy="1155.4" r="8.2"/>
<circle cx="413.0" cy="1166.2" r="8.2"/>
<circle cx="389.3" cy="1168.4" r="8.2"/>
<circle cx="281.5" cy="1177.0" r="8.2"/>
<circle cx="290.2" cy="1182.4" r="8.2"/>
<circle cx="283.7" cy="1191.0" r="8.2"/>
<circle cx="288.0" cy="1196.4" r="8.2"/>
<circle cx="296.6" cy="1209.3" r="8.2"/>
<circle cx="303.1" cy="1217.9" r="8.2"/>
<circle cx="292.3" cy="1225.5" r="8.2"/>
<circle cx="300.9" cy="1230.8" r="8.2"/>
<circle cx="286.9" cy="1236.2" r="8.2"/>
<circle cx="324.6" cy="1223.3" r="8.2"/>
<circle cx="326.8" cy="1230.8" r="8.2"/>
<circle cx="354.8" cy="1214.7" r="8.2"/>
<circle cx="357.0" cy="1223.3" r="8.2"/>
<circle cx="387.1" cy="1192.1" r="8.2"/>
<circle cx="392.5" cy="1196.4" r="8.2"/>
<circle cx="276.2" cy="1209.3" r="8.2"/>
<circle cx="459.7" cy="1020.3" r="8.2"/>
<circle cx="461.9" cy="1033.3" r="8.2"/>
<circle cx="466.2" cy="1046.2" r="8.2"/>
<circle cx="455.4" cy="1046.2" r="8.2"/>
<circle cx="446.8" cy="1057.0" r="8.2"/>
<circle cx="461.9" cy="1062.4" r="8.2"/>
<circle cx="471.6" cy="1057.0" r="8.2"/>
<circle cx="428.5" cy="1057.0" r="8.2"/>
<circle cx="440.3" cy="1054.8" r="8.2"/>
<circle cx="436.0" cy="1067.7" r="8.2"/>
<circle cx="449.0" cy="1069.9" r="8.2"/>
<circle cx="406.9" cy="1076.4" r="8.2"/>
<circle cx="412.3" cy="1089.3" r="8.2"/>
<circle cx="401.5" cy="1100.1" r="8.2"/>
<circle cx="420.9" cy="1083.9" r="8.2"/>
<circle cx="425.3" cy="1097.9" r="8.2"/>
<circle cx="439.3" cy="1089.3" r="8.2"/>
<circle cx="450.0" cy="1083.9" r="8.2"/>
<circle cx="390.8" cy="1110.8" r="8.2"/>
<circle cx="412.3" cy="1110.8" r="8.2"/>
<circle cx="431.7" cy="1110.8" r="8.2"/>
<circle cx="482.4" cy="986.9" r="8.2"/>
<circle cx="493.1" cy="986.9" r="8.2"/>
<circle cx="503.9" cy="992.3" r="8.2"/>
<circle cx="487.7" cy="1003.1" r="8.2"/>
<circle cx="498.5" cy="1003.1" r="8.2"/>
<circle cx="509.3" cy="1008.5" r="8.2"/>
<circle cx="493.1" cy="1033.3" r="8.2"/>
<circle cx="509.3" cy="1035.4" r="8.2"/>
<circle cx="498.5" cy="1051.6" r="8.2"/>
<circle cx="409.1" cy="1004.2" r="8.2"/>
<circle cx="433.9" cy="1026.8" r="8.2"/>
<circle cx="471.6" cy="1083.9" r="8.2"/>
<circle cx="483.4" cy="1091.4" r="8.2"/>
<circle cx="282.4" cy="1176.2" r="8.2"/>
<circle cx="287.7" cy="1183.7" r="8.2"/>
<circle cx="283.4" cy="1192.3" r="8.2"/>
<circle cx="292.1" cy="1179.4" r="8.2"/>
<circle cx="298.5" cy="1208.5" r="8.2"/>
<circle cx="303.9" cy="1219.3" r="8.2"/>
<circle cx="287.7" cy="1224.6" r="8.2"/>
<circle cx="298.5" cy="1230.0" r="8.2"/>
<circle cx="293.1" cy="1240.8" r="8.2"/>
<circle cx="287.7" cy="1248.4" r="8.2"/>
<circle cx="303.9" cy="1235.4" r="8.2"/>
<circle cx="320.1" cy="1170.8" r="8.2"/>
<circle cx="320.1" cy="1183.7" r="8.2"/>
<circle cx="330.8" cy="1166.5" r="8.2"/>
<circle cx="336.2" cy="1181.5" r="8.2"/>
<circle cx="325.5" cy="1224.6" r="8.2"/>
<circle cx="272.7" cy="1209.6" r="8.2"/>
<circle cx="506.8" cy="962.4" r="8.2"/>
<circle cx="509.0" cy="973.1" r="8.2"/>
<circle cx="504.6" cy="967.7" r="8.2"/>
<circle cx="477.7" cy="983.9" r="8.2"/>
<circle cx="488.5" cy="989.3" r="8.2"/>
<circle cx="499.3" cy="987.1" r="8.2"/>
<circle cx="510.0" cy="989.3" r="8.2"/>
<circle cx="517.6" cy="994.7" r="8.2"/>
<circle cx="483.1" cy="1000.1" r="8.2"/>
<circle cx="493.9" cy="1002.2" r="8.2"/>
<circle cx="504.6" cy="1005.5" r="8.2"/>
<circle cx="515.4" cy="1008.7" r="8.2"/>
<circle cx="472.3" cy="1010.8" r="8.2"/>
<circle cx="461.5" cy="1005.5" r="8.2"/>
<circle cx="456.2" cy="1016.2" r="8.2"/>
<circle cx="488.5" cy="1016.2" r="8.2"/>
<circle cx="504.6" cy="1016.2" r="8.2"/>
<circle cx="457.6" cy="1020.3" r="8.2"/>
<circle cx="466.2" cy="1024.6" r="8.2"/>
<circle cx="474.8" cy="1013.9" r="8.2"/>
<circle cx="461.9" cy="1035.4" r="8.2"/>
<circle cx="455.4" cy="1033.3" r="8.2"/>
<circle cx="481.3" cy="1009.6" r="8.2"/>
</g>
</g>
<rect x="142.9" y="554.0" width="809.0" height="822.0" fill="none" stroke="#000" stroke-width="2.2"/>
<line x1="193.80" y1="1376.00" x2="193.80" y2="1385.50" stroke="#000" stroke-width="2.2" />
<text x="171.48" y="1421.70" style='font-family:"DejaVu Sans", sans-serif;font-size:35.70px' textLength="44.65" lengthAdjust="spacingAndGlyphs" fill="#000" >15</text>
<line x1="377.70" y1="1376.00" x2="377.70" y2="1385.50" stroke="#000" stroke-width="2.2" />
<text x="355.38" y="1421.70" style='font-family:"DejaVu Sans", sans-serif;font-size:35.70px' textLength="44.65" lengthAdjust="spacingAndGlyphs" fill="#000" >20</text>
<line x1="561.60" y1="1376.00" x2="561.60" y2="1385.50" stroke="#000" stroke-width="2.2" />
<text x="539.28" y="1421.70" style='font-family:"DejaVu Sans", sans-serif;font-size:35.70px' textLength="44.65" lengthAdjust="spacingAndGlyphs" fill="#000" >25</text>
<line x1="745.50" y1="1376.00" x2="745.50" y2="1385.50" stroke="#000" stroke-width="2.2" />
<text x="723.18" y="1421.70" style='font-family:"DejaVu Sans", sans-serif;font-size:35.70px' textLength="44.65" lengthAdjust="spacingAndGlyphs" fill="#000" >30</text>
<line x1="929.40" y1="1376.00" x2="929.40" y2="1385.50" stroke="#000" stroke-width="2.2" />
<text x="907.08" y="1421.70" style='font-family:"DejaVu Sans", sans-serif;font-size:35.70px' textLength="44.65" lengthAdjust="spacingAndGlyphs" fill="#000" >35</text>
<line x1="132.90" y1="1298.00" x2="142.90" y2="1298.00" stroke="#000" stroke-width="2.2" />
<text x="79.33" y="1312.30" style='font-family:"DejaVu Sans", sans-serif;font-size:35.70px' textLength="44.65" lengthAdjust="spacingAndGlyphs" fill="#000" >25</text>
<line x1="132.90" y1="1183.55" x2="142.90" y2="1183.55" stroke="#000" stroke-width="2.2" />
<text x="79.33" y="1197.85" style='font-family:"DejaVu Sans", sans-serif;font-size:35.70px' textLength="44.65" lengthAdjust="spacingAndGlyphs" fill="#000" >30</text>
<line x1="132.90" y1="1069.10" x2="142.90" y2="1069.10" stroke="#000" stroke-width="2.2" />
<text x="79.33" y="1083.40" style='font-family:"DejaVu Sans", sans-serif;font-size:35.70px' textLength="44.65" lengthAdjust="spacingAndGlyphs" fill="#000" >35</text>
<line x1="132.90" y1="954.65" x2="142.90" y2="954.65" stroke="#000" stroke-width="2.2" />
<text x="79.33" y="968.95" style='font-family:"DejaVu Sans", sans-serif;font-size:35.70px' textLength="44.65" lengthAdjust="spacingAndGlyphs" fill="#000" >40</text>
<line x1="132.90" y1="840.20" x2="142.90" y2="840.20" stroke="#000" stroke-width="2.2" />
<text x="79.33" y="854.50" style='font-family:"DejaVu Sans", sans-serif;font-size:35.70px' textLength="44.65" lengthAdjust="spacingAndGlyphs" fill="#000" >45</text>
<line x1="132.90" y1="725.75" x2="142.90" y2="725.75" stroke="#000" stroke-width="2.2" />
<text x="79.33" y="740.05" style='font-family:"DejaVu Sans", sans-serif;font-size:35.70px' textLength="44.65" lengthAdjust="spacingAndGlyphs" fill="#000" >50</text>
<line x1="132.90" y1="611.30" x2="142.90" y2="611.30" stroke="#000" stroke-width="2.2" />
<text x="79.33" y="625.60" style='font-family:"DejaVu Sans", sans-serif;font-size:35.70px' textLength="44.65" lengthAdjust="spacingAndGlyphs" fill="#000" >55</text>
<text x="336.15" y="1475.70" style='font-family:"DejaVu Sans", sans-serif;font-size:38.55px' textLength="420.94" lengthAdjust="spacingAndGlyphs" fill="#000" >Exercise body mass</text>
<g transform="translate(54.4,1029.9) rotate(-90)">
<text x="-4.05" y="0.00" style='font-family:"DejaVu Sans", sans-serif;font-size:40.20px' textLength="87.44" lengthAdjust="spacingAndGlyphs" fill="#000" >LBM</text>
<text x="85.02" y="-14.60" style='font-family:"DejaVu Sans", sans-serif;font-size:29.00px' textLength="45.91" lengthAdjust="spacingAndGlyphs" fill="#000" >0.9</text>
</g>
<line x1="159.50" y1="593.00" x2="227.20" y2="593.00" stroke="#8b0000" stroke-width="3.4" />
<text x="250.69" y="602.00" style='font-family:"DejaVu Sans", sans-serif;font-size:31.60px' textLength="67.26" lengthAdjust="spacingAndGlyphs" fill="#000" >LBM</text>
<text x="317.80" y="588.60" style='font-family:"DejaVu Sans", sans-serif;font-size:22.00px' textLength="34.21" lengthAdjust="spacingAndGlyphs" fill="#000" >0.9</text>
<text x="362.65" y="602.00" style='font-family:"DejaVu Sans", sans-serif;font-size:31.60px' textLength="26.71" lengthAdjust="spacingAndGlyphs" fill="#000" >=</text>
<text x="408.47" y="602.00" style='font-family:"DejaVu Sans", sans-serif;font-size:31.60px' textLength="157.35" lengthAdjust="spacingAndGlyphs" fill="#000" >1.61*EBM</text>
<text x="148.11" y="658.30" style='font-family:"DejaVu Sans", sans-serif;font-size:28.70px' textLength="96.27" lengthAdjust="spacingAndGlyphs" fill="#000" >r=0.95</text>
<text x="148.11" y="690.20" style='font-family:"DejaVu Sans", sans-serif;font-size:28.70px' textLength="120.00" lengthAdjust="spacingAndGlyphs" fill="#000" >p&lt;0.001</text>
<text x="148.11" y="722.00" style='font-family:"DejaVu Sans", sans-serif;font-size:28.70px' textLength="93.64" lengthAdjust="spacingAndGlyphs" fill="#000" >n=466</text>
<rect x="707.6" y="1251.2" width="226.9" height="107.4" rx="6" ry="6" fill="#fff" fill-opacity="0.8" stroke="#cccccc" stroke-width="1.6"/>
<circle cx="752.8" cy="1280.9" r="8" fill="#6fbfcc" stroke="#3f9aaa" stroke-width="1.5"/>
<circle cx="752.8" cy="1330.2" r="8" fill="#cf7a7a" stroke="#a83a42" stroke-width="1.5"/>
<text x="807.87" y="1289.70" style='font-family:"DejaVu Sans", sans-serif;font-size:33.30px' textLength="73.71" lengthAdjust="spacingAndGlyphs" fill="#000" >Male</text>
<text x="807.86" y="1339.00" style='font-family:"DejaVu Sans", sans-serif;font-size:33.30px' textLength="112.80" lengthAdjust="spacingAndGlyphs" fill="#000" >Female</text>
<text x="980.93" y="515.00" style='font-family:"Liberation Sans", Arial, sans-serif;font-size:37.93px;font-weight:bold' textLength="575.84" lengthAdjust="spacingAndGlyphs" fill="#000" >C. EBM behaviour with aging</text>
<defs><clipPath id="clipC"><rect x="1124.2" y="563.4" width="795.4" height="804.8"/></clipPath></defs>
<g clip-path="url(#clipC)">
<line x1="1101.5" y1="1004.3" x2="1124.5" y2="1002.7" stroke="#f20a0a" stroke-width="8" stroke-linecap="round"/>
<line x1="1145.9" y1="997.7" x2="1168.9" y2="996.3" stroke="#f20a0a" stroke-width="8" stroke-linecap="round"/>
<line x1="1189.5" y1="992.8" x2="1212.5" y2="992.0" stroke="#f20a0a" stroke-width="8" stroke-linecap="round"/>
<line x1="1233.2" y1="990.3" x2="1256.2" y2="990.3" stroke="#f20a0a" stroke-width="8" stroke-linecap="round"/>
<line x1="1278.9" y1="991.9" x2="1301.9" y2="992.9" stroke="#f20a0a" stroke-width="8" stroke-linecap="round"/>
<line x1="1326.7" y1="997.3" x2="1349.7" y2="998.3" stroke="#f20a0a" stroke-width="8" stroke-linecap="round"/>
<line x1="1370.3" y1="999.5" x2="1393.3" y2="1000.3" stroke="#f20a0a" stroke-width="8" stroke-linecap="round"/>
<line x1="1416.1" y1="1003.5" x2="1439.1" y2="1004.5" stroke="#f20a0a" stroke-width="8" stroke-linecap="round"/>
<line x1="1461.8" y1="1006.9" x2="1484.8" y2="1007.9" stroke="#f20a0a" stroke-width="8" stroke-linecap="round"/>
<line x1="1507.5" y1="1011.7" x2="1530.5" y2="1012.9" stroke="#f20a0a" stroke-width="8" stroke-linecap="round"/>
<line x1="1553.2" y1="1015.8" x2="1576.2" y2="1017.2" stroke="#f20a0a" stroke-width="8" stroke-linecap="round"/>
<line x1="1599.1" y1="1022.9" x2="1622.1" y2="1025.1" stroke="#f20a0a" stroke-width="8" stroke-linecap="round"/>
<line x1="1640.7" y1="1031.8" x2="1663.7" y2="1034.4" stroke="#f20a0a" stroke-width="8" stroke-linecap="round"/>
<line x1="1684.1" y1="1041.8" x2="1707.1" y2="1043.6" stroke="#f20a0a" stroke-width="8" stroke-linecap="round"/>
<line x1="1729.9" y1="1047.1" x2="1752.9" y2="1048.3" stroke="#f20a0a" stroke-width="8" stroke-linecap="round"/>
<line x1="1775.6" y1="1051.1" x2="1798.6" y2="1052.5" stroke="#f20a0a" stroke-width="8" stroke-linecap="round"/>
<line x1="1819.2" y1="1058.3" x2="1842.2" y2="1060.3" stroke="#f20a0a" stroke-width="8" stroke-linecap="round"/>
<line x1="1864.9" y1="1067.0" x2="1887.9" y2="1069.0" stroke="#f20a0a" stroke-width="8" stroke-linecap="round"/>
<line x1="1900.3" y1="1072.5" x2="1923.3" y2="1074.3" stroke="#f20a0a" stroke-width="8" stroke-linecap="round"/>
<path d="M1124.20,975.50 C1137.83,976.25 1178.98,978.37 1206.00,980.00 C1233.02,981.63 1258.97,983.43 1286.30,985.30 C1313.63,987.17 1342.30,989.12 1370.00,991.20 C1397.70,993.28 1425.00,995.58 1452.50,997.80 C1480.00,1000.02 1507.28,1002.08 1535.00,1004.50 C1562.72,1006.92 1591.30,1009.38 1618.80,1012.30 C1646.30,1015.22 1672.30,1018.53 1700.00,1022.00 C1727.70,1025.47 1760.00,1029.93 1785.00,1033.10 C1810.00,1036.27 1827.57,1038.35 1850.00,1041.00 C1872.43,1043.65 1908.00,1047.67 1919.60,1049.00" fill="none" stroke="#990000" stroke-width="5"/>
<path d="M1124.2,967.5v16M1116.2,975.5h16M1137.7,968.2v16M1129.7,976.2h16M1151.1,969.0v16M1143.1,977.0h16M1164.5,969.7v16M1156.5,977.7h16M1178.0,970.5v16M1170.0,978.5h16M1191.5,971.2v16M1183.5,979.2h16M1204.9,971.9v16M1196.9,979.9h16M1218.4,972.8v16M1210.4,980.8h16M1231.8,973.7v16M1223.8,981.7h16M1245.2,974.6v16M1237.2,982.6h16M1258.7,975.5v16M1250.7,983.5h16M1272.2,976.4v16M1264.2,984.4h16M1285.6,977.3v16M1277.6,985.3h16M1299.0,978.2v16M1291.0,986.2h16M1312.5,979.1v16M1304.5,987.1h16M1326.0,980.1v16M1318.0,988.1h16M1339.4,981.0v16M1331.4,989.0h16M1352.8,982.0v16M1344.8,990.0h16M1366.3,982.9v16M1358.3,990.9h16M1379.8,984.0v16M1371.8,992.0h16M1393.2,985.1v16M1385.2,993.1h16M1406.7,986.1v16M1398.7,994.1h16M1420.1,987.2v16M1412.1,995.2h16M1433.5,988.3v16M1425.5,996.3h16M1447.0,989.4v16M1439.0,997.4h16M1460.5,990.4v16M1452.5,998.4h16M1473.9,991.5v16M1465.9,999.5h16M1487.3,992.6v16M1479.3,1000.6h16M1500.8,993.7v16M1492.8,1001.7h16M1514.2,994.8v16M1506.2,1002.8h16M1527.7,995.9v16M1519.7,1003.9h16M1541.2,997.1v16M1533.2,1005.1h16M1554.6,998.3v16M1546.6,1006.3h16M1568.0,999.6v16M1560.0,1007.6h16M1581.5,1000.8v16M1573.5,1008.8h16M1595.0,1002.1v16M1587.0,1010.1h16M1608.4,1003.3v16M1600.4,1011.3h16M1621.8,1004.7v16M1613.8,1012.7h16M1635.3,1006.3v16M1627.3,1014.3h16M1648.8,1007.9v16M1640.8,1015.9h16M1662.2,1009.5v16M1654.2,1017.5h16M1675.7,1011.1v16M1667.7,1019.1h16M1689.1,1012.7v16M1681.1,1020.7h16M1702.6,1014.3v16M1694.6,1022.3h16M1716.0,1016.1v16M1708.0,1024.1h16M1729.5,1017.8v16M1721.5,1025.8h16M1742.9,1019.6v16M1734.9,1027.6h16M1756.3,1021.4v16M1748.3,1029.4h16M1769.8,1023.1v16M1761.8,1031.1h16M1783.2,1024.9v16M1775.2,1032.9h16M1796.7,1026.5v16M1788.7,1034.5h16M1810.2,1028.2v16M1802.2,1036.2h16M1823.6,1029.8v16M1815.6,1037.8h16M1837.0,1031.4v16M1829.0,1039.4h16M1850.5,1033.1v16M1842.5,1041.1h16M1864.0,1034.6v16M1856.0,1042.6h16M1877.4,1036.1v16M1869.4,1044.1h16M1890.8,1037.7v16M1882.8,1045.7h16M1904.3,1039.2v16M1896.3,1047.2h16M1917.8,1040.8v16M1909.8,1048.8h16M1931.2,1041.0v16M1923.2,1049.0h16" fill="none" stroke="#990000" stroke-width="4.6"/>
<path d="M1124.20,807.00 C1137.35,807.43 1169.17,808.38 1203.10,809.60 C1237.03,810.82 1293.15,811.97 1327.80,814.30 C1362.45,816.63 1386.75,820.42 1411.00,823.60 C1435.25,826.78 1452.53,829.53 1473.30,833.40 C1494.07,837.27 1511.35,841.37 1535.60,846.80 C1559.85,852.23 1591.08,859.33 1618.80,866.00 C1646.52,872.67 1674.20,880.22 1701.90,886.80 C1729.60,893.38 1757.30,899.27 1785.00,905.50 C1812.70,911.73 1845.67,918.95 1868.10,924.20 C1890.53,929.45 1911.02,934.87 1919.60,937.00" fill="none" stroke="#0a7f98" stroke-width="4.6"/>
<path d="M1120.8,766.7L1131.2,766.7L1126.0,776.9ZM1145.9,767.2L1156.3,767.2L1151.1,777.4ZM1152.9,766.9L1163.3,766.9L1158.1,777.1ZM1159.9,766.7L1170.3,766.7L1165.1,776.9ZM1166.9,766.4L1177.3,766.4L1172.1,776.6ZM1202.0,763.3L1212.4,763.3L1207.2,773.5ZM1209.0,763.4L1219.4,763.4L1214.2,773.6ZM1216.0,763.6L1226.4,763.6L1221.2,773.8ZM1223.0,763.7L1233.4,763.7L1228.2,773.9ZM1250.6,767.3L1261.0,767.3L1255.8,777.5ZM1257.6,768.1L1268.0,768.1L1262.8,778.3ZM1264.6,768.9L1275.0,768.9L1269.8,779.1ZM1271.6,769.7L1282.0,769.7L1276.8,779.9ZM1299.6,773.0L1310.0,773.0L1304.8,783.2ZM1306.6,774.1L1317.0,774.1L1311.8,784.3ZM1313.6,775.3L1324.0,775.3L1318.8,785.5ZM1320.6,776.4L1331.0,776.4L1325.8,786.6ZM1349.5,782.1L1359.9,782.1L1354.7,792.3ZM1356.5,783.6L1366.9,783.6L1361.7,793.8ZM1363.5,785.0L1373.9,785.0L1368.7,795.2ZM1370.5,786.5L1380.9,786.5L1375.7,796.7ZM1398.6,793.6L1409.0,793.6L1403.8,803.8ZM1405.6,794.9L1416.0,794.9L1410.8,805.1ZM1412.6,796.1L1423.0,796.1L1417.8,806.3ZM1419.6,797.4L1430.0,797.4L1424.8,807.6ZM1449.3,800.7L1459.7,800.7L1454.5,810.9ZM1456.3,801.7L1466.7,801.7L1461.5,811.9ZM1463.3,802.7L1473.7,802.7L1468.5,812.9ZM1470.3,803.7L1480.7,803.7L1475.5,813.9ZM1499.1,808.1L1509.5,808.1L1504.3,818.3ZM1506.1,809.4L1516.5,809.4L1511.3,819.6ZM1513.1,810.8L1523.5,810.8L1518.3,821.0ZM1520.1,812.1L1530.5,812.1L1525.3,822.3ZM1549.0,818.2L1559.4,818.2L1554.2,828.4ZM1556.0,820.0L1566.4,820.0L1561.2,830.2ZM1563.0,821.8L1573.4,821.8L1568.2,832.0ZM1570.0,823.6L1580.4,823.6L1575.2,833.8ZM1596.0,831.9L1606.4,831.9L1601.2,842.1ZM1603.0,834.2L1613.4,834.2L1608.2,844.4ZM1610.0,836.6L1620.4,836.6L1615.2,846.8ZM1617.0,838.9L1627.4,838.9L1622.2,849.1ZM1641.7,847.9L1652.1,847.9L1646.9,858.1ZM1648.7,850.4L1659.1,850.4L1653.9,860.6ZM1655.7,852.8L1666.1,852.8L1660.9,863.0ZM1662.7,855.3L1673.1,855.3L1667.9,865.5ZM1685.3,862.8L1695.7,862.8L1690.5,873.0ZM1692.3,865.3L1702.7,865.3L1697.5,875.5ZM1699.3,867.9L1709.7,867.9L1704.5,878.1ZM1706.3,870.4L1716.7,870.4L1711.5,880.6ZM1729.0,880.0L1739.4,880.0L1734.2,890.2ZM1736.0,882.1L1746.4,882.1L1741.2,892.3ZM1743.0,884.3L1753.4,884.3L1748.2,894.5ZM1750.0,886.4L1760.4,886.4L1755.2,896.6ZM1775.5,892.2L1785.9,892.2L1780.7,902.4ZM1782.5,893.7L1792.9,893.7L1787.7,903.9ZM1789.5,895.1L1799.9,895.1L1794.7,905.3ZM1796.5,896.6L1806.9,896.6L1801.7,906.8ZM1827.5,901.9L1837.9,901.9L1832.7,912.1ZM1834.5,903.3L1844.9,903.3L1839.7,913.5ZM1841.5,904.7L1851.9,904.7L1846.7,914.9ZM1848.5,906.1L1858.9,906.1L1853.7,916.3ZM1875.3,911.8L1885.7,911.8L1880.5,922.0ZM1882.3,913.3L1892.7,913.3L1887.5,923.5ZM1889.3,914.7L1899.7,914.7L1894.5,924.9ZM1896.3,916.2L1906.7,916.2L1901.5,926.4Z" fill="#000" stroke="#000" stroke-width="1.3" stroke-linejoin="round"/>
</g>
<rect x="1124.2" y="563.4" width="795.4" height="804.8" fill="none" stroke="#000" stroke-width="1.7"/>
<line x1="1124.20" y1="1368.20" x2="1124.20" y2="1377.70" stroke="#000" stroke-width="1.7" />
<text x="1097.75" y="1416.00" style='font-family:"DejaVu Sans", sans-serif;font-size:40.70px' textLength="51.91" lengthAdjust="spacingAndGlyphs" fill="#000" >20</text>
<line x1="1258.70" y1="1368.20" x2="1258.70" y2="1377.70" stroke="#000" stroke-width="1.7" />
<text x="1232.25" y="1416.00" style='font-family:"DejaVu Sans", sans-serif;font-size:40.70px' textLength="51.91" lengthAdjust="spacingAndGlyphs" fill="#000" >30</text>
<line x1="1393.20" y1="1368.20" x2="1393.20" y2="1377.70" stroke="#000" stroke-width="1.7" />
<text x="1366.75" y="1416.00" style='font-family:"DejaVu Sans", sans-serif;font-size:40.70px' textLength="51.91" lengthAdjust="spacingAndGlyphs" fill="#000" >40</text>
<line x1="1527.70" y1="1368.20" x2="1527.70" y2="1377.70" stroke="#000" stroke-width="1.7" />
<text x="1501.25" y="1416.00" style='font-family:"DejaVu Sans", sans-serif;font-size:40.70px' textLength="51.91" lengthAdjust="spacingAndGlyphs" fill="#000" >50</text>
<line x1="1662.20" y1="1368.20" x2="1662.20" y2="1377.70" stroke="#000" stroke-width="1.7" />
<text x="1635.75" y="1416.00" style='font-family:"DejaVu Sans", sans-serif;font-size:40.70px' textLength="51.91" lengthAdjust="spacingAndGlyphs" fill="#000" >60</text>
<line x1="1796.70" y1="1368.20" x2="1796.70" y2="1377.70" stroke="#000" stroke-width="1.7" />
<text x="1770.25" y="1416.00" style='font-family:"DejaVu Sans", sans-serif;font-size:40.70px' textLength="51.91" lengthAdjust="spacingAndGlyphs" fill="#000" >70</text>
<line x1="1114.50" y1="1368.20" x2="1124.20" y2="1368.20" stroke="#000" stroke-width="1.7" />
<text x="1077.50" y="1383.50" style='font-family:"DejaVu Sans", sans-serif;font-size:40.70px' textLength="25.95" lengthAdjust="spacingAndGlyphs" fill="#000" >0</text>
<line x1="1114.50" y1="1207.24" x2="1124.20" y2="1207.24" stroke="#000" stroke-width="1.7" />
<text x="1051.54" y="1222.54" style='font-family:"DejaVu Sans", sans-serif;font-size:40.70px' textLength="51.91" lengthAdjust="spacingAndGlyphs" fill="#000" >10</text>
<line x1="1114.50" y1="1046.28" x2="1124.20" y2="1046.28" stroke="#000" stroke-width="1.7" />
<text x="1051.54" y="1061.58" style='font-family:"DejaVu Sans", sans-serif;font-size:40.70px' textLength="51.91" lengthAdjust="spacingAndGlyphs" fill="#000" >20</text>
<line x1="1114.50" y1="885.32" x2="1124.20" y2="885.32" stroke="#000" stroke-width="1.7" />
<text x="1051.54" y="900.62" style='font-family:"DejaVu Sans", sans-serif;font-size:40.70px' textLength="51.91" lengthAdjust="spacingAndGlyphs" fill="#000" >30</text>
<line x1="1114.50" y1="724.36" x2="1124.20" y2="724.36" stroke="#000" stroke-width="1.7" />
<text x="1051.54" y="739.66" style='font-family:"DejaVu Sans", sans-serif;font-size:40.70px' textLength="51.91" lengthAdjust="spacingAndGlyphs" fill="#000" >40</text>
<line x1="1114.50" y1="563.40" x2="1124.20" y2="563.40" stroke="#000" stroke-width="1.7" />
<text x="1051.54" y="578.70" style='font-family:"DejaVu Sans", sans-serif;font-size:40.70px' textLength="51.91" lengthAdjust="spacingAndGlyphs" fill="#000" >50</text>
<text x="1383.24" y="1472.00" style='font-family:"DejaVu Sans", sans-serif;font-size:44.34px' textLength="274.96" lengthAdjust="spacingAndGlyphs" fill="#000" >Age (years)</text>
<g transform="translate(1023.7,1126) rotate(-90)">
<text x="-0.35" y="0.00" style='font-family:"DejaVu Sans", sans-serif;font-size:45.30px' textLength="323.22" lengthAdjust="spacingAndGlyphs" fill="#000" >Adjusted EBM</text>
</g>
<rect x="1427.6" y="1142.7" width="474.8" height="208.3" rx="6" ry="6" fill="#fff" fill-opacity="0.8" stroke="#cccccc" stroke-width="1.6"/>
<path d="M1465.6,1168.6L1476.2,1168.6L1470.9,1178.4Z" fill="#000"/>
<line x1="1437.80" y1="1220.40" x2="1505.30" y2="1220.40" stroke="#0a7f98" stroke-width="5" />
<circle cx="1470.9" cy="1273.8" r="4.6" fill="#f20a0a"/>
<line x1="1437.80" y1="1320.90" x2="1505.30" y2="1320.90" stroke="#990000" stroke-width="5" />
<line x1="1470.90" y1="1312.50" x2="1470.90" y2="1329.00" stroke="#990000" stroke-width="3" />
<text x="1526.15" y="1182.20" style='font-family:"DejaVu Sans", sans-serif;font-size:33.20px' textLength="324.43" lengthAdjust="spacingAndGlyphs" fill="#000" >St-Onge et al. - Male</text>
<text x="1526.46" y="1233.00" style='font-family:"DejaVu Sans", sans-serif;font-size:33.20px' textLength="311.16" lengthAdjust="spacingAndGlyphs" fill="#000" >Current work - Male</text>
<text x="1526.15" y="1282.70" style='font-family:"DejaVu Sans", sans-serif;font-size:33.20px' textLength="363.92" lengthAdjust="spacingAndGlyphs" fill="#000" >St-Onge et al. - Female</text>
<text x="1526.46" y="1331.00" style='font-family:"DejaVu Sans", sans-serif;font-size:33.20px' textLength="350.83" lengthAdjust="spacingAndGlyphs" fill="#000" >Current work - Female</text>
</svg></body></html>
